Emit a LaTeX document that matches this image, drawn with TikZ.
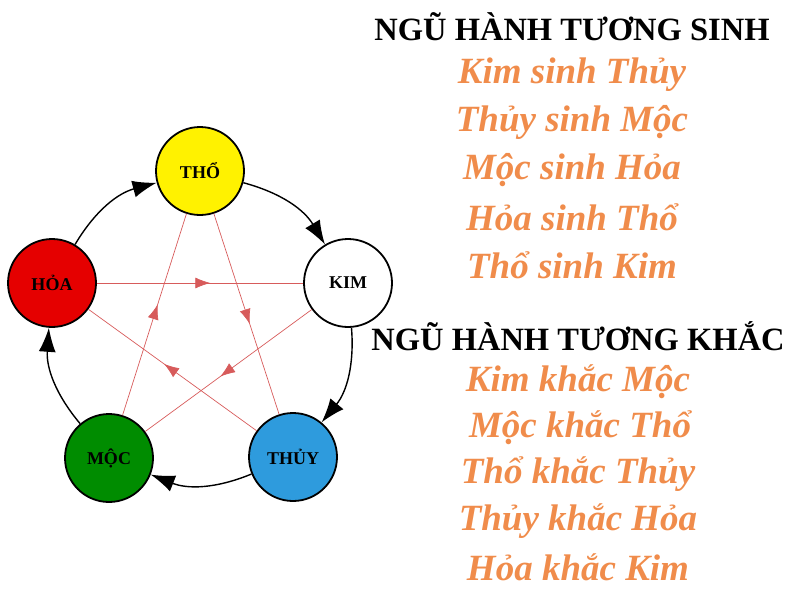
\documentclass[tikz,border=0pt]{standalone}
\usepackage{fontspec}
\setmainfont{Liberation Serif}
\usetikzlibrary{arrows.meta, positioning, decorations.markings}
\definecolor{hanhorange}{RGB}{240,140,75}
\definecolor{khacred}{RGB}{205,50,50}
\tikzset{
    hanh/.style={circle, draw, line width=1.8pt, minimum size=88pt, inner sep=0pt, font=\bfseries\fontsize{18}{18}\selectfont},
    sinh/.style={-{Latex[length=24pt, width=17pt]}, line width=1.4pt, bend left=22},
    khac/.style={khacred!80, line width=0.7pt, postaction={decorate},
        decoration={markings, mark=at position 0.55 with {\arrow{Latex[length=15pt, width=11pt]}}}},
    tieude/.style={font=\bfseries\fontsize{32.5}{32.5}\selectfont},
    dong/.style={hanhorange, font=\bfseries\itshape\fontsize{37}{37}\selectfont}
}

\begin{document}
\begin{tikzpicture}[x=1pt, y=-1pt]
    \useasboundingbox (0,0) rectangle (800,600);
    % five elements
    \node[hanh, fill=yellow] (tho) at (200,171) {THỔ};
    \node[hanh, fill=white] (kim) at (348,283) {KIM};
    \node[hanh, fill=cyan!75!blue!85] (thuy) at (293,457) {THỦY};
    \node[hanh, fill=green!55!black] (moc) at (109,458) {MỘC};
    \node[hanh, fill=red!90!black] (hoa) at (52,283) {HỎA};

    % generating cycle
    \draw[sinh] (tho) to (kim);
    \draw[sinh] (kim) to (thuy);
    \draw[sinh] (thuy) to (moc);
    \draw[sinh] (moc) to (hoa);
    \draw[sinh] (hoa) to (tho);

    % overcoming star
    \draw[khac] (hoa) -- (kim);
    \draw[khac] (tho) -- (thuy);
    \draw[khac] (kim) -- (moc);
    \draw[khac] (thuy) -- (hoa);
    \draw[khac] (moc) -- (tho);

    % text list
    \node[tieude] (sinhtitle) at (572,27) {NGŨ HÀNH TƯƠNG SINH};
    \node[dong] (s1) at (572,75) {Kim sinh Thủy};
    \node[dong] (s2) at (572,122) {Thủy sinh Mộc};
    \node[dong] (s3) at (572,170) {Mộc sinh Hỏa};
    \node[dong] (s4) at (572,217) {Hỏa sinh Thổ};
    \node[dong] (s5) at (572,265) {Thổ sinh Kim};
    \node[tieude] (khactitle) at (578,336) {NGŨ HÀNH TƯƠNG KHẮC};
    \node[dong] (k1) at (578,382) {Kim khắc Mộc};
    \node[dong] (k2) at (580,428) {Mộc khắc Thổ};
    \node[dong] (k3) at (578,474) {Thổ khắc Thủy};
    \node[dong] (k4) at (578,521) {Thủy khắc Hỏa};
    \node[dong] (k5) at (578,567) {Hỏa khắc Kim};
\end{tikzpicture}
\end{document}
